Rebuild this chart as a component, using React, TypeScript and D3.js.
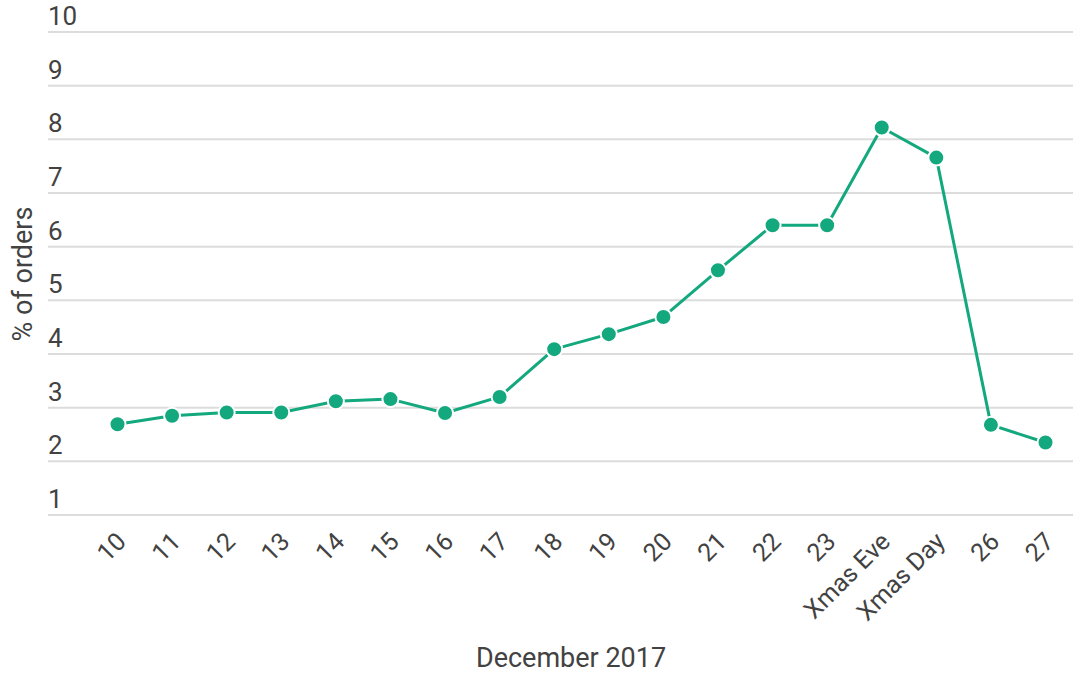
import React from 'react';
import * as d3 from 'd3';

const days = ['10', '11', '12', '13', '14', '15', '16', '17', '18', '19', '20', '21', '22', '23', 'Xmas Eve', 'Xmas Day', '26', '27'];
const shareOfOrders = [2.69, 2.85, 2.91, 2.91, 3.12, 3.16, 2.9, 3.2, 4.09, 4.37, 4.69, 5.56, 6.4, 6.4, 8.22, 7.66, 2.68, 2.35];
const yTicks = [1, 2, 3, 4, 5, 6, 7, 8, 9, 10];

const W = 1080;
const H = 675;
const green = '#13a87d';
const textColor = '#424242';

const App = () => {
  const x = d3.scalePoint<string>().domain(days).range([117.5, 1045.5]);
  const y = d3.scaleLinear().domain([1, 10]).range([515, 32]);

  const line = d3.line<number>()
    .x((_, i) => x(days[i]) as number)
    .y(d => y(d));

  return (
    <svg width={W} height={H} style={{ position: 'absolute', left: 0, top: 0, background: '#fff' }}
      fontFamily="Roboto, sans-serif">
      {/* gridlines + y labels */}
      {yTicks.map(t => (
        <g key={t}>
          <line x1={48} x2={1073} y1={y(t)} y2={y(t)} stroke="#dcdcdc" strokeWidth={2} />
          <text x={48} y={y(t) - 7} fontSize={26} fill={textColor}>{t}</text>
        </g>
      ))}

      {/* x labels */}
      {days.map(d => (
        <text key={d} fontSize={25} fill={textColor} textAnchor="end"
          transform={`translate(${(x(d) as number) + 10},543) rotate(-45)`}>{d}</text>
      ))}

      <path d={line(shareOfOrders) || ''} fill="none" stroke={green} strokeWidth={3} strokeLinejoin="round" />
      {shareOfOrders.map((v, i) => (
        <circle key={i} cx={x(days[i]) as number} cy={y(v)} r={8} fill={green} stroke="#fff" strokeWidth={2} />
      ))}

      <text x={571} y={667} fontSize={27} fill={textColor} textAnchor="middle">December 2017</text>
      <text transform="translate(32,274) rotate(-90)" fontSize={27} fill={textColor} textAnchor="middle">% of orders</text>
    </svg>
  );
};

export default App;
